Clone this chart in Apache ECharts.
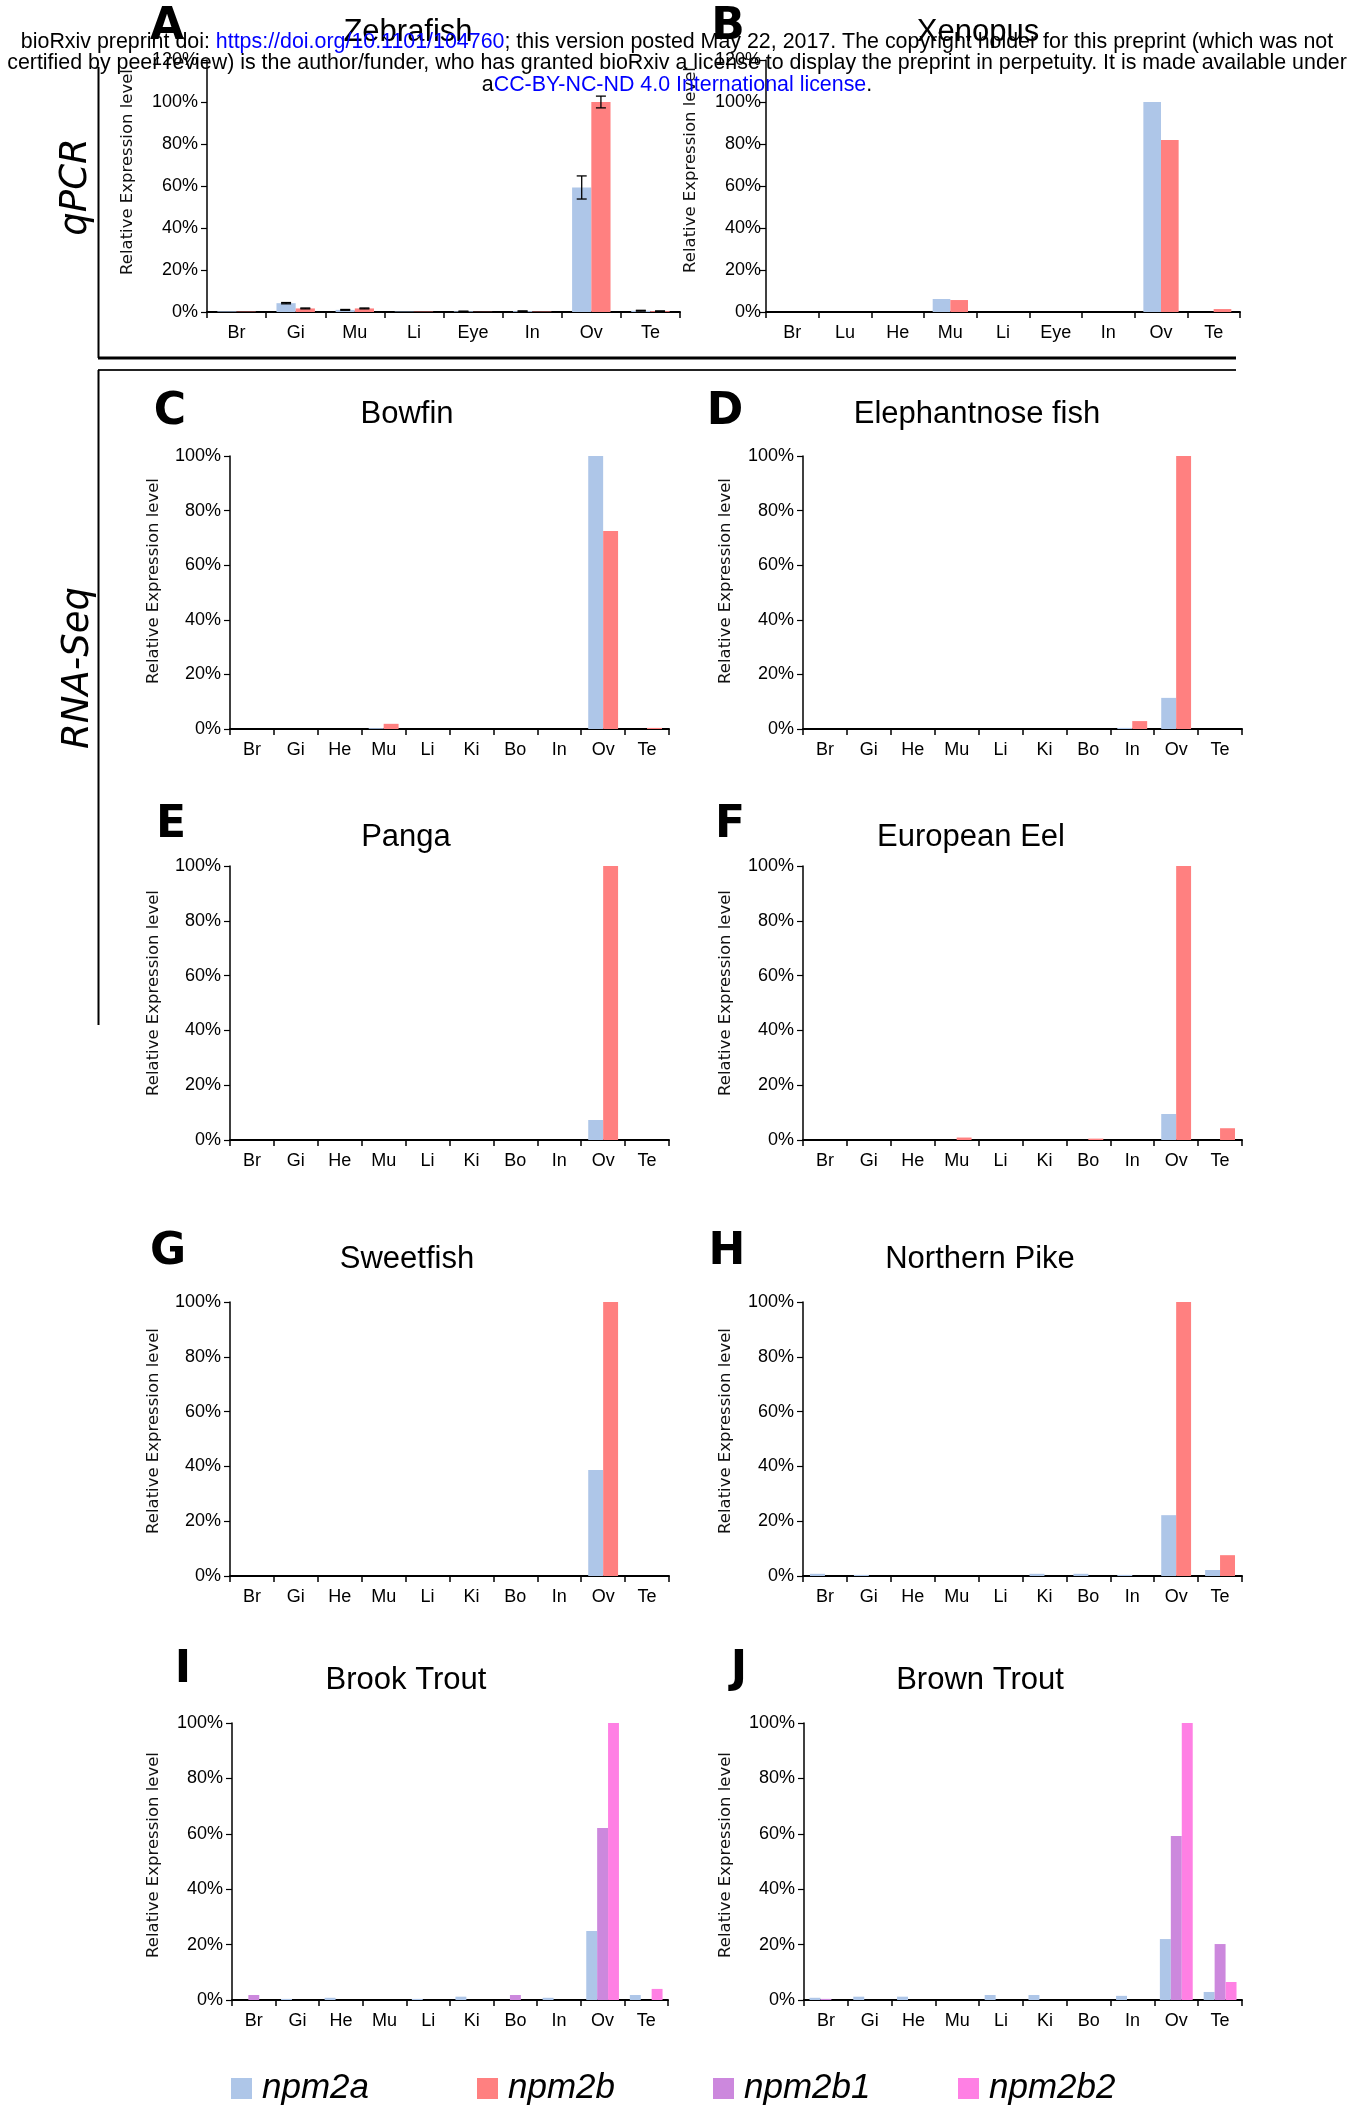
<!DOCTYPE html>
<html>
<head>
<meta charset="utf-8">
<script src="https://cdn.jsdelivr.net/npm/echarts@6/dist/echarts.min.js"></script>
<style>
html, body { margin: 0; padding: 0; background: #fff; }
#main { width: 1365px; height: 2107px; }
</style>
</head>
<body>
<div id="main"></div>
<script>
// tissues
var tissuesZebrafish = ['Br', 'Gi', 'Mu', 'Li', 'Eye', 'In', 'Ov', 'Te'];
var tissuesXenopus = ['Br', 'Lu', 'He', 'Mu', 'Li', 'Eye', 'In', 'Ov', 'Te'];
var tissuesFish = ['Br', 'Gi', 'He', 'Mu', 'Li', 'Ki', 'Bo', 'In', 'Ov', 'Te'];

// y axis (percent)
var qpcrMax = 120;
var rnaMax = 100;
var tickStep = 20;

// qPCR
var zebrafishA = [0.3, 4.2, 1.0, 0.2, 0.3, 0.4, 59.3, 0.6];
var zebrafishB = [0.2, 1.7, 1.7, 0.2, 0.1, 0.2, 100, 0.4];
var zebrafishErrA = [0, 0.3, 0.2, 0, 0.1, 0.1, 5.5, 0.2];
var zebrafishErrB = [0, 0.2, 0.2, 0, 0, 0, 2.8, 0.1];
var xenopusA = [0, 0, 0, 6.2, 0, 0, 0, 100, 0];
var xenopusB = [0, 0, 0, 5.7, 0, 0, 0, 81.9, 1.4];

// RNA-Seq
var bowfinA = [0, 0, 0, 0.3, 0, 0, 0, 0, 100, 0];
var bowfinB = [0, 0, 0, 1.9, 0, 0, 0, 0, 72.5, 0.4];
var elephantA = [0, 0, 0, 0, 0, 0, 0, 0.4, 11.4, 0];
var elephantB = [0, 0, 0, 0, 0, 0, 0, 2.9, 100, 0];
var pangaA = [0, 0, 0, 0, 0, 0, 0, 0, 7.3, 0];
var pangaB = [0, 0, 0, 0, 0, 0, 0, 0, 100, 0];
var eelA = [0, 0, 0, 0, 0, 0, 0, 0, 9.5, 0];
var eelB = [0, 0, 0, 0.9, 0, 0, 0.5, 0, 100, 4.3];
var sweetfishA = [0, 0, 0, 0, 0, 0, 0, 0, 38.7, 0];
var sweetfishB = [0, 0, 0, 0, 0, 0, 0, 0, 100, 0];
var pikeA = [0.8, 0.4, 0, 0, 0, 0.8, 0.8, 0.4, 22.2, 2.2];
var pikeB = [0, 0, 0, 0, 0, 0, 0, 0, 100, 7.6];
var brookA = [0, 0.4, 0.8, 0, 0.4, 1.2, 0, 0.8, 24.9, 1.8];
var brookB1 = [1.8, 0, 0, 0, 0, 0, 1.8, 0, 62.1, 0];
var brookB2 = [0, 0, 0, 0, 0, 0, 0, 0, 100, 4.0];
var brownA = [0.8, 1.2, 1.2, 0, 1.8, 1.8, 0, 1.5, 22, 2.9];
var brownB1 = [0.4, 0, 0, 0, 0, 0, 0, 0, 59.2, 20.2];
var brownB2 = [0, 0, 0, 0, 0, 0, 0, 0, 100, 6.5];

var genes = ['npm2a', 'npm2b', 'npm2b1', 'npm2b2'];
var colors = { npm2a: '#aec6e8', npm2b: '#ff8080', npm2b1: '#cc88dd', npm2b2: '#ff80e4' };

var panels = [
    { letter: 'A', title: 'Zebrafish', cats: tissuesZebrafish, max: qpcrMax, gap: 0.35,
      series: [['npm2a', zebrafishA], ['npm2b', zebrafishB]],
      grid: { left: 207, top: 60, width: 473, height: 252 },
      letterPos: [167, 28], titlePos: [408, 32], ylabPos: [128, 172], margin: 9 },
    { letter: 'B', title: 'Xenopus', cats: tissuesXenopus, max: qpcrMax, gap: 0.33,
      series: [['npm2a', xenopusA], ['npm2b', xenopusB]],
      grid: { left: 766, top: 60, width: 474, height: 252 },
      letterPos: [728, 28], titlePos: [978, 32], ylabPos: [691, 170], margin: 5 },
    { letter: 'C', title: 'Bowfin', cats: tissuesFish, max: rnaMax, gap: 0.32,
      series: [['npm2a', bowfinA], ['npm2b', bowfinB]],
      grid: { left: 230, top: 456, width: 439, height: 273 },
      letterPos: [170, 413], titlePos: [407, 414], ylabPos: [154, 581], margin: 9 },
    { letter: 'D', title: 'Elephantnose fish', cats: tissuesFish, max: rnaMax, gap: 0.32,
      series: [['npm2a', elephantA], ['npm2b', elephantB]],
      grid: { left: 803, top: 456, width: 439, height: 273 },
      letterPos: [725, 413], titlePos: [977, 414], ylabPos: [726, 581], margin: 9 },
    { letter: 'E', title: 'Panga', cats: tissuesFish, max: rnaMax, gap: 0.32,
      series: [['npm2a', pangaA], ['npm2b', pangaB]],
      grid: { left: 230, top: 866, width: 439, height: 274 },
      letterPos: [171, 826], titlePos: [406, 837], ylabPos: [154, 993], margin: 9 },
    { letter: 'F', title: 'European Eel', cats: tissuesFish, max: rnaMax, gap: 0.32,
      series: [['npm2a', eelA], ['npm2b', eelB]],
      grid: { left: 803, top: 866, width: 439, height: 274 },
      letterPos: [730, 826], titlePos: [971, 837], ylabPos: [726, 993], margin: 9 },
    { letter: 'G', title: 'Sweetfish', cats: tissuesFish, max: rnaMax, gap: 0.32,
      series: [['npm2a', sweetfishA], ['npm2b', sweetfishB]],
      grid: { left: 230, top: 1302, width: 439, height: 274 },
      letterPos: [168, 1253], titlePos: [407, 1259], ylabPos: [154, 1431], margin: 9 },
    { letter: 'H', title: 'Northern Pike', cats: tissuesFish, max: rnaMax, gap: 0.32,
      series: [['npm2a', pikeA], ['npm2b', pikeB]],
      grid: { left: 803, top: 1302, width: 439, height: 274 },
      letterPos: [727, 1253], titlePos: [980, 1259], ylabPos: [726, 1431], margin: 9 },
    { letter: 'I', title: 'Brook Trout', cats: tissuesFish, max: rnaMax, gap: 0.25,
      series: [['npm2a', brookA], ['npm2b1', brookB1], ['npm2b2', brookB2]],
      grid: { left: 232, top: 1723, width: 436, height: 277 },
      letterPos: [183, 1671], titlePos: [406, 1680], ylabPos: [154, 1855], margin: 9 },
    { letter: 'J', title: 'Brown Trout', cats: tissuesFish, max: rnaMax, gap: 0.25,
      series: [['npm2a', brownA], ['npm2b1', brownB1], ['npm2b2', brownB2]],
      grid: { left: 804, top: 1723, width: 438, height: 277 },
      letterPos: [739, 1671], titlePos: [980, 1680], ylabPos: [726, 1855], margin: 9 }
];

var option = {
    animation: false,
    backgroundColor: '#fff',
    grid: [], xAxis: [], yAxis: [], series: [], graphic: [], legend: []
};

panels.forEach(function (p, i) {
    option.grid.push(Object.assign({ outerBoundsMode: 'none' }, p.grid));
    option.xAxis.push({
        type: 'category', gridIndex: i, data: p.cats,
        axisLine: { lineStyle: { color: '#000', width: 2 } },
        axisTick: { show: true, interval: 0, length: 6, lineStyle: { color: '#000', width: 1.5 } },
        axisLabel: { interval: 0, margin: 12, color: '#000', fontFamily: 'Liberation Sans', fontSize: 18 },
        splitLine: { show: false }
    });
    option.yAxis.push({
        type: 'value', gridIndex: i, min: 0, max: p.max, interval: tickStep,
        axisLine: { show: true, lineStyle: { color: '#000', width: 1.5 } },
        axisTick: { show: true, length: 6, lineStyle: { color: '#000', width: 1.2 } },
        axisLabel: { formatter: '{value}%', margin: p.margin, color: '#000', fontFamily: 'Liberation Sans', fontSize: 18 },
        splitLine: { show: false }
    });
    p.series.forEach(function (s) {
        option.series.push({
            type: 'bar', name: s[0], xAxisIndex: i, yAxisIndex: i, data: s[1],
            barGap: '0%', barCategoryGap: (p.gap * 100) + '%',
            itemStyle: { color: colors[s[0]] }, silent: true
        });
    });

    // panel letter, title, y axis name
    option.graphic.push({
        type: 'text', x: p.letterPos[0], y: p.letterPos[1],
        style: { text: p.letter, font: 'bold 44px "DejaVu Sans"', fill: '#000', align: 'center', verticalAlign: 'middle' }
    });
    option.graphic.push({
        type: 'text', x: p.titlePos[0], y: p.titlePos[1],
        style: { text: p.title, font: '31px "Liberation Sans"', fill: '#000', align: 'center', verticalAlign: 'middle' }
    });
    option.graphic.push({
        type: 'text', x: p.ylabPos[0], y: p.ylabPos[1], rotation: Math.PI / 2,
        style: { text: 'Relative Expression level', font: '16.5px "DejaVu Sans"', fill: '#111', align: 'center', verticalAlign: 'middle' }
    });
});

// error bars for zebrafish qPCR
function errorBars(sign, gap) {
    return function (params, api) {
        var cat = api.value(0), val = api.value(1), err = api.value(2);
        if (!err) return null;
        var band = api.size([1, 0])[0];
        var barW = band * (1 - gap) / 2;
        var top = api.coord([cat, val + err]);
        var bot = api.coord([cat, val - err]);
        var x = top[0] + sign * barW / 2;
        var cap = 5;
        var st = { stroke: '#000', lineWidth: 1.3 };
        return {
            type: 'group', children: [
                { type: 'line', shape: { x1: x, y1: top[1], x2: x, y2: bot[1] }, style: st },
                { type: 'line', shape: { x1: x - cap, y1: top[1], x2: x + cap, y2: top[1] }, style: st },
                { type: 'line', shape: { x1: x - cap, y1: bot[1], x2: x + cap, y2: bot[1] }, style: st }
            ]
        };
    };
}
[[zebrafishA, zebrafishErrA, -1], [zebrafishB, zebrafishErrB, 1]].forEach(function (e) {
    option.series.push({
        type: 'custom', xAxisIndex: 0, yAxisIndex: 0, z: 3, silent: true,
        renderItem: errorBars(e[2], panels[0].gap),
        encode: { x: 0, y: 1 },
        data: e[0].map(function (v, k) { return [k, v, e[1][k]]; })
    });
});

// frame lines and section labels
option.graphic.push(
    { type: 'line', shape: { x1: 98.5, y1: 67, x2: 98.5, y2: 358 }, style: { stroke: '#000', lineWidth: 2 } },
    { type: 'line', shape: { x1: 98, y1: 358, x2: 1236, y2: 358 }, style: { stroke: '#000', lineWidth: 3 } },
    { type: 'line', shape: { x1: 98, y1: 370, x2: 1236, y2: 370 }, style: { stroke: '#222', lineWidth: 2 } },
    { type: 'line', shape: { x1: 98.5, y1: 370, x2: 98.5, y2: 1025 }, style: { stroke: '#000', lineWidth: 2 } },
    { type: 'text', x: 76, y: 187, rotation: Math.PI / 2,
      style: { text: 'qPCR', font: 'italic 37px "DejaVu Sans"', fill: '#000', align: 'center', verticalAlign: 'middle' } },
    { type: 'text', x: 78, y: 668, rotation: Math.PI / 2,
      style: { text: 'RNA-Seq', font: 'italic 37px "DejaVu Sans"', fill: '#000', align: 'center', verticalAlign: 'middle' } }
);

// bioRxiv header (drawn over the panels)
var headerRich = {
    k: { fill: '#000', fontFamily: 'Liberation Sans', fontSize: 21.4 },
    u: { fill: '#0000ff', fontFamily: 'Liberation Sans', fontSize: 21.4 }
};
var headerLines = [
    '{k|bioRxiv preprint doi: }{u|https://doi.org/10.1101/104760}{k|; this version posted May 22, 2017. The copyright holder for this preprint (which was not}',
    '{k|certified by peer review) is the author/funder, who has granted bioRxiv a license to display the preprint in perpetuity. It is made available under}',
    '{k|a}{u|CC-BY-NC-ND 4.0 International license}{k|.}'
];
[42, 63, 85].forEach(function (y, i) {
    option.graphic.push({
        type: 'text', x: 677, y: y, z: 100,
        style: { text: headerLines[i], rich: headerRich, align: 'center', verticalAlign: 'middle' }
    });
});

// legend
var legendLeft = [231, 477, 713, 958];
genes.forEach(function (g, i) {
    option.legend.push({
        data: [g], left: legendLeft[i], top: 2071, padding: 0,
        itemWidth: 21, itemHeight: 21, icon: 'rect', selectedMode: false,
        textStyle: { fontFamily: 'Liberation Sans', fontStyle: 'italic', fontSize: 35, color: '#000', padding: [0, 0, 0, 5] }
    });
});

var chart = echarts.init(document.getElementById('main'));
chart.setOption(option);
</script>
</body>
</html>
